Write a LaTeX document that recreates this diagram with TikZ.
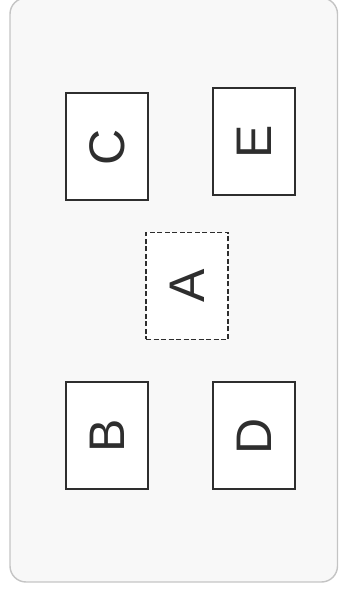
\documentclass[tikz,border=0pt]{standalone}
\usepackage{fontspec}
\setmainfont{Liberation Sans}
\usepackage{graphicx}
\definecolor{panelfill}{HTML}{F8F8F8}
\definecolor{panelline}{HTML}{C4C4C4}
\definecolor{boxline}{HTML}{2E2E2E}
\tikzset{
  slot/.style={draw=boxline, fill=white, line width=2pt, minimum width=82pt,
    minimum height=107pt, inner sep=0pt, text=boxline, font=\fontsize{50}{50}\selectfont},
  freeslot/.style={slot, dashed, line width=1.8pt, dash pattern=on 5pt off 2.5pt}
}
\begin{document}
\begin{tikzpicture}[x=1pt,y=1pt]
\useasboundingbox (0,0) rectangle (339,594);
\draw[panelline, fill=panelfill, line width=1.4pt, rounded corners=16pt] (10,12) rectangle (337.5,596);
%\def\w{82} \def\h{107}
\path
(107,447) node[slot] (C) {\rotatebox{90}{C}}
(254,452.5) node[slot] (E) {\rotatebox{90}{E}}
(187,308) node[freeslot] (A) {\rotatebox{90}{A}}
(107,158) node[slot] (B) {\rotatebox{90}{B}}
(254,158) node[slot] (D) {\rotatebox{90}{D}};
\end{tikzpicture}
\end{document}
